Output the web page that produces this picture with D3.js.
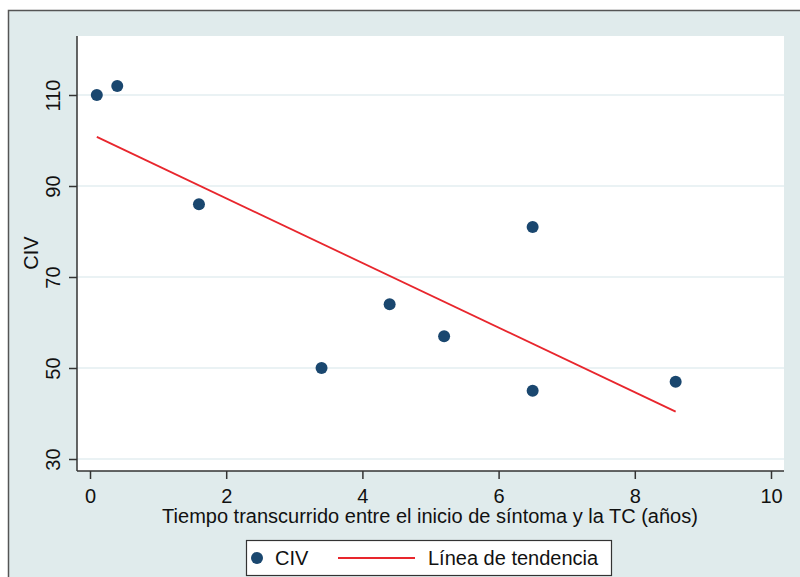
<!DOCTYPE html>
<html>
<head>
<meta charset="utf-8">
<script src="https://cdn.jsdelivr.net/npm/d3@7"></script>
<style>
  body { margin: 0; background: #fff; }
  svg { display: block; font-family: "Liberation Sans", Arial, sans-serif; }
</style>
</head>
<body>
<svg width="800" height="577"></svg>
<script>
// data
var timeYears = [0.1, 0.4, 1.6, 3.4, 4.4, 5.2, 6.5, 6.5, 8.6];
var civValues = [110, 112, 86, 50, 64, 57, 81, 45, 47];
var trendX = [0.1, 8.6];
var trendY = [100.8, 40.4];
var xTicks = [0, 2, 4, 6, 8, 10];
var yTicks = [30, 50, 70, 90, 110];

var svg = d3.select("svg");
var fontSize = "20px";

// outer background + frame
svg.append("rect")
    .attr("x", 8.5).attr("y", 10.5)
    .attr("width", 800).attr("height", 600)
    .style("fill", "#e0ebec")
    .style("stroke", "#555")
    .style("stroke-width", 1.5);

var plot = { left: 77, top: 36, right: 784, bottom: 471 };

var x = d3.scaleLinear().domain([0, 10]).range([90, 771]);
var y = d3.scaleLinear().domain([30, 110]).range([459, 95]);

// white plot region
svg.append("rect")
    .attr("x", plot.left).attr("y", plot.top)
    .attr("width", plot.right - plot.left)
    .attr("height", plot.bottom - plot.top)
    .style("fill", "#fff");

// gridlines
svg.selectAll(".grid")
    .data(yTicks)
    .enter().append("line")
    .attr("class", "grid")
    .attr("x1", plot.left).attr("x2", plot.right)
    .attr("y1", d => y(d)).attr("y2", d => y(d))
    .style("stroke", "#e3eef0")
    .style("stroke-width", 1.5);

// x axis
var xAxis = svg.append("g")
    .attr("transform", `translate(0,${plot.bottom})`)
    .call(d3.axisBottom(x).tickValues(xTicks).tickSize(8).tickSizeOuter(0));
xAxis.select(".domain").attr("d", `M${plot.left},0H${plot.right}`).style("stroke", "#333").style("stroke-width", 1.5);
xAxis.selectAll(".tick line").style("stroke", "#333").style("stroke-width", 1.5);
xAxis.selectAll(".tick text")
    .attr("y", 32).attr("dy", null)
    .style("font-size", fontSize).style("fill", "#111")
    .style("font-family", "'Liberation Sans', Arial, sans-serif");

// y axis
var yAxis = svg.append("g")
    .attr("transform", `translate(${plot.left},0)`)
    .call(d3.axisLeft(y).tickValues(yTicks).tickSize(8).tickSizeOuter(0));
yAxis.select(".domain").attr("d", `M0,${plot.top}V${plot.bottom}`).style("stroke", "#333").style("stroke-width", 1.5);
yAxis.selectAll(".tick line").style("stroke", "#333").style("stroke-width", 1.5);
yAxis.selectAll(".tick text")
    .attr("x", null).attr("dy", null)
    .attr("transform", "translate(-17,0) rotate(-90)")
    .attr("text-anchor", "middle")
    .style("font-size", fontSize).style("fill", "#111")
    .style("font-family", "'Liberation Sans', Arial, sans-serif");

// axis titles
svg.append("text")
    .attr("x", 430)
    .attr("y", 523)
    .attr("text-anchor", "middle")
    .style("font-size", fontSize).style("fill", "#111")
    .text("Tiempo transcurrido entre el inicio de síntoma y la TC (años)");

svg.append("text")
    .attr("transform", "translate(38,253) rotate(-90)")
    .attr("text-anchor", "middle")
    .style("font-size", fontSize).style("fill", "#111")
    .text("CIV");

// trend line
var trend = trendX.map((d, i) => [d, trendY[i]]);
svg.append("path")
    .datum(trend)
    .attr("d", d3.line().x(d => x(d[0])).y(d => y(d[1])))
    .style("fill", "none")
    .style("stroke", "#e8262d")
    .style("stroke-width", 1.8);

// points
svg.selectAll(".pt")
    .data(timeYears)
    .enter().append("circle")
    .attr("class", "pt")
    .attr("cx", d => x(d))
    .attr("cy", (d, i) => y(civValues[i]))
    .attr("r", 6)
    .style("fill", "#1a476f");

// legend
var legend = svg.append("g");
legend.append("rect")
    .attr("x", 246.5).attr("y", 540.5)
    .attr("width", 365).attr("height", 35)
    .style("fill", "#fff")
    .style("stroke", "#333")
    .style("stroke-width", 1.2);
legend.append("circle")
    .attr("cx", 257).attr("cy", 558).attr("r", 6)
    .style("fill", "#1a476f");
legend.append("text")
    .attr("x", 275).attr("y", 565)
    .style("font-size", fontSize).style("fill", "#111")
    .text("CIV");
legend.append("line")
    .attr("x1", 338).attr("x2", 415)
    .attr("y1", 558).attr("y2", 558)
    .style("stroke", "#e8262d").style("stroke-width", 1.8);
legend.append("text")
    .attr("x", 428).attr("y", 565)
    .style("font-size", fontSize).style("fill", "#111")
    .text("Línea de tendencia");
</script>
</body>
</html>
